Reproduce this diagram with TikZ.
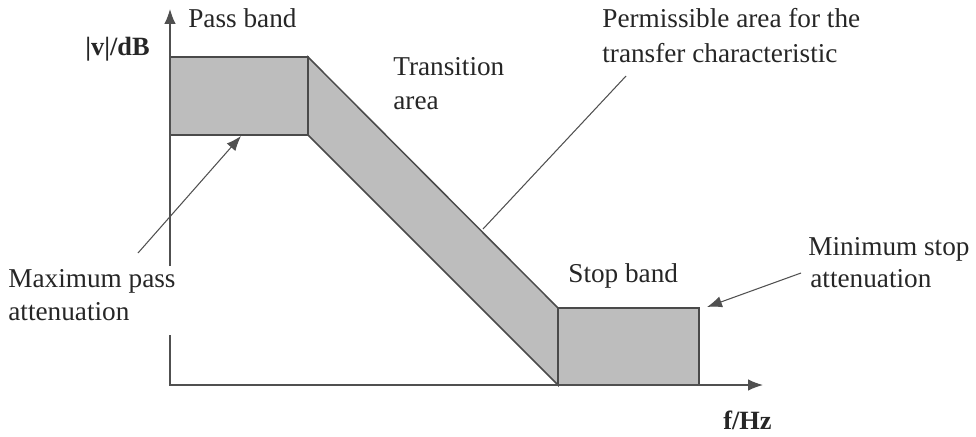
\documentclass[tikz,border=0pt]{standalone}
\usepackage{fontspec}
\setmainfont{Liberation Serif}
\usetikzlibrary{arrows.meta}
\definecolor{bandgray}{HTML}{BDBDBD}
\definecolor{edgegray}{HTML}{4A4A4A}
\definecolor{axisgray}{HTML}{505050}
\begin{document}
\begin{tikzpicture}[x=0.02cm,y=-0.02cm,
  lbl/.style={anchor=base west, inner sep=0pt, text=black!85, font=\fontsize{15.5}{18}\selectfont},
  axlbl/.style={anchor=base west, inner sep=0pt, text=black!85, font=\fontsize{15}{18}\selectfont\bfseries},
  band/.style={fill=bandgray, draw=edgegray, line width=0.85pt, line join=miter},
  axis/.style={draw=axisgray, line width=0.7pt},
  pointer/.style={draw=axisgray, line width=0.6pt},
  tipped/.style={-{Latex[length=8.5pt,width=6.5pt]}}
]
\useasboundingbox (0,0) rectangle (976,436);
% key points
\coordinate (O) at (170,385);
\coordinate (ytop) at (170,9);
\coordinate (xend) at (763,385);
\coordinate (ygapb) at (170,335);
\coordinate (ygapt) at (170,266);
\coordinate (pbTL) at (170,57);
\coordinate (pbBR) at (308,135);
\coordinate (trTL) at (308,57);
\coordinate (trTR) at (558,308);
\coordinate (trBR) at (558,385);
\coordinate (trBL) at (308,135);
\coordinate (sbTL) at (558,308);
\coordinate (sbBR) at (699,385);
% bands
\path[band] (pbTL) rectangle (pbBR);
\path[band] (trTL) -- (trTR) -- (trBR) -- (trBL) -- cycle;
\path[band] (sbTL) rectangle (sbBR);
% axes
\draw[axis,tipped] (ygapt) -- (ytop);
\draw[axis,tipped] (ygapb) -- (O) -- (xend);
% labels
\node[axlbl] (ylab) at (85,55) {|v|/dB};
\node[axlbl] (xlab) at (723,429) {f/Hz};
\node[lbl] (pass) at (188,28) {Pass band};
\node[lbl] (trans1) at (393,75) {Transition};
\node[lbl] (trans2) at (393,109) {area};
\node[lbl] (perm1) at (602,28) {Permissible area for the};
\node[lbl] (perm2) at (602,62) {transfer characteristic};
\node[lbl] (maxp1) at (8,287) {Maximum pass};
\node[lbl] (maxp2) at (8,320) {attenuation};
\node[lbl] (stop) at (568,282) {Stop band};
\node[lbl] (mins1) at (808,255) {Minimum stop};
\node[lbl] (mins2) at (810,287) {attenuation};
% pointers
\coordinate (maxpFrom) at (138,253);
\coordinate (maxpTo) at (241,136);
\coordinate (permFrom) at (626,76);
\coordinate (permTo) at (483,229);
\coordinate (minsFrom) at (801,273);
\coordinate (minsTo) at (707,307);
\draw[pointer,tipped] (maxpFrom) -- (maxpTo);
\draw[pointer] (permFrom) -- (permTo);
\draw[pointer,tipped] (minsFrom) -- (minsTo);
\end{tikzpicture}
\end{document}
